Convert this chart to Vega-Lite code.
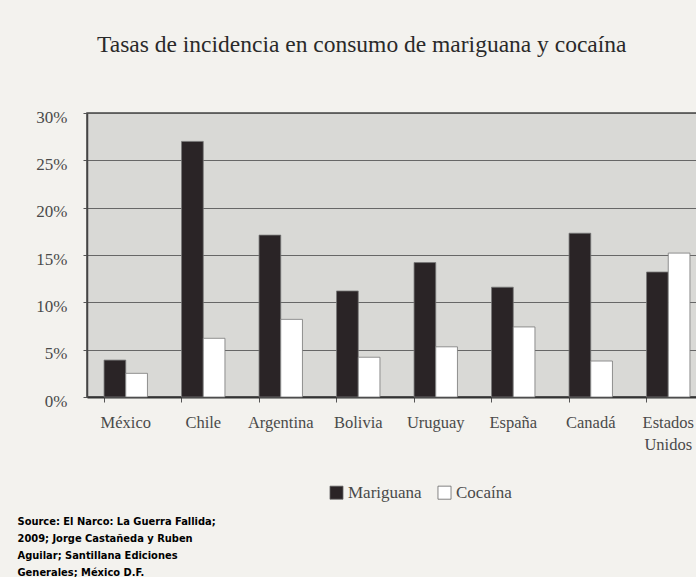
{
  "$schema": "https://vega.github.io/schema/vega-lite/v6.json",
  "autosize": {"type": "none"},
  "width": 620,
  "height": 284,
  "padding": {"left": 87, "top": 113, "right": 0, "bottom": 180},
  "background": "#f3f2ee",
  "title": {
    "text": "Tasas de incidencia en consumo de mariguana y cocaína",
    "anchor": "start",
    "frame": "group",
    "dx": 10,
    "offset": 52,
    "font": "Liberation Serif",
    "fontSize": 23.5,
    "fontWeight": "normal",
    "color": "#2a2a2a"
  },
  "data": {
    "values": [
      {"pais": "México", "droga": "Mariguana", "tasa": 3.9},
      {"pais": "México", "droga": "Cocaína", "tasa": 2.5},
      {"pais": "Chile", "droga": "Mariguana", "tasa": 27.0},
      {"pais": "Chile", "droga": "Cocaína", "tasa": 6.2},
      {"pais": "Argentina", "droga": "Mariguana", "tasa": 17.1},
      {"pais": "Argentina", "droga": "Cocaína", "tasa": 8.2},
      {"pais": "Bolivia", "droga": "Mariguana", "tasa": 11.2},
      {"pais": "Bolivia", "droga": "Cocaína", "tasa": 4.2},
      {"pais": "Uruguay", "droga": "Mariguana", "tasa": 14.2},
      {"pais": "Uruguay", "droga": "Cocaína", "tasa": 5.3},
      {"pais": "España", "droga": "Mariguana", "tasa": 11.6},
      {"pais": "España", "droga": "Cocaína", "tasa": 7.4},
      {"pais": "Canadá", "droga": "Mariguana", "tasa": 17.3},
      {"pais": "Canadá", "droga": "Cocaína", "tasa": 3.8},
      {"pais": "Estados Unidos", "droga": "Mariguana", "tasa": 13.2},
      {"pais": "Estados Unidos", "droga": "Cocaína", "tasa": 15.2}
    ]
  },
  "mark": {"type": "bar", "stroke": "#777777", "strokeWidth": 0.8},
  "encoding": {
    "x": {
      "field": "pais",
      "type": "nominal",
      "sort": null,
      "scale": {"paddingInner": 0.44, "paddingOuter": 0.22},
      "axis": {
        "labelAngle": 0,
        "labelFont": "Liberation Serif",
        "labelFontSize": 16.5,
        "labelColor": "#4a4a4a",
        "labelPadding": 12,
        "labelExpr": "datum.label == 'Estados Unidos' ? ['Estados', 'Unidos'] : datum.label",
        "labelLineHeight": 22,
        "labelBaseline": "top",
        "bandPosition": 0,
        "tickColor": "#555555",
        "tickSize": 5,
        "domainColor": "#333333",
        "domainWidth": 2,
        "title": ["Source: El Narco: La Guerra Fallida;", "2009; Jorge Castañeda y Ruben", "Aguilar; Santillana Ediciones", "Generales; México D.F."],
        "titleFont": "DejaVu Sans Condensed",
        "titleFontWeight": "bold",
        "titleFontSize": 11,
        "titleLineHeight": 17,
        "titleColor": "#000000",
        "titleAnchor": "start",
        "titleAlign": "left",
        "titleBaseline": "top",
        "titleX": -70,
        "titleY": 118
      }
    },
    "xOffset": {"field": "droga", "type": "nominal", "sort": ["Mariguana", "Cocaína"]},
    "y": {
      "field": "tasa",
      "type": "quantitative",
      "scale": {"domain": [0, 30]},
      "axis": {
        "title": null,
        "values": [0, 5, 10, 15, 20, 25, 30],
        "labelExpr": "datum.value + '%'",
        "labelFont": "Liberation Serif",
        "labelFontSize": 17,
        "labelColor": "#4a4a4a",
        "labelPadding": 16,
        "labelOffset": 4,
        "tickColor": "#555555",
        "tickSize": 4,
        "domainColor": "#444444",
        "domainWidth": 1.5,
        "gridColor": "#5a5a5a",
        "gridWidth": 0.9
      }
    },
    "color": {
      "field": "droga",
      "type": "nominal",
      "sort": ["Mariguana", "Cocaína"],
      "scale": {"domain": ["Mariguana", "Cocaína"], "range": ["#2a2426", "#ffffff"]},
      "legend": {
        "title": null,
        "orient": "none",
        "direction": "horizontal",
        "legendX": 241,
        "legendY": 371,
        "symbolType": "square",
        "symbolSize": 170,
        "symbolStrokeColor": "#666666",
        "symbolStrokeWidth": 0.8,
        "labelFont": "Liberation Serif",
        "labelFontSize": 17,
        "labelColor": "#4a4a4a",
        "columnPadding": 14,
        "labelOffset": 3
      }
    }
  },
  "config": {
    "view": {"fill": "#d9d9d6", "stroke": "#444444", "strokeWidth": 1.5}
  }
}
